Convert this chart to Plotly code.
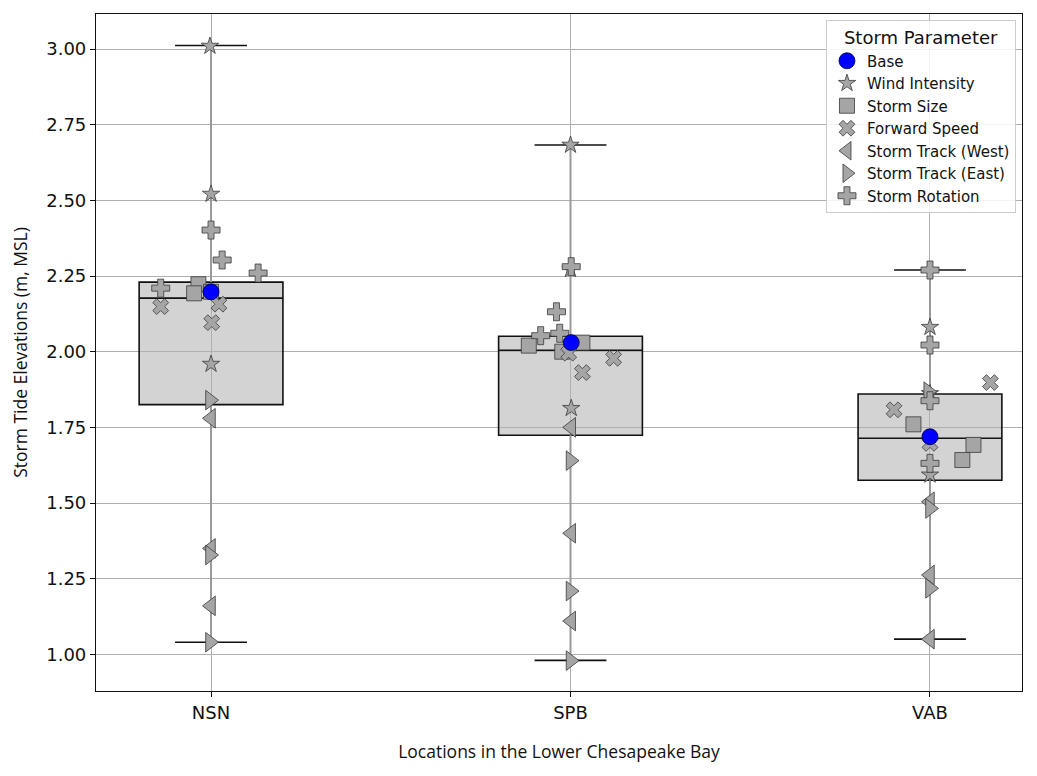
import plotly.graph_objects as go

# ---------------- data ----------------
locations = ["NSN", "SPB", "VAB"]
loc_pos = [0, 1, 2]

# box statistics
box_q1 = [1.825, 1.724, 1.575]
box_median = [2.177, 2.005, 1.714]
box_q3 = [2.230, 2.051, 1.860]
whisk_low = [1.040, 0.980, 1.050]
whisk_high = [3.012, 2.683, 2.270]

# Base
base_loc = [0, 1, 2]
base_val = [2.198, 2.030, 1.719]
base_jit = [0.0, 0.002, 0.0]

# Wind Intensity
wind_loc = [0, 0, 0, 1, 1, 1, 2, 2, 2]
wind_val = [3.010, 2.521, 1.959, 2.683, 2.272, 1.813, 2.081, 1.862, 1.593]
wind_jit = [-0.003, 0.0, 0.0, 0.0, 0.0, 0.002, 0.0, 0.0, 0.0]

# Storm Size
size_loc = [0, 0, 0, 1, 1, 1, 2, 2, 2]
size_val = [2.223, 2.193, 2.198, 2.020, 2.030, 2.000, 1.760, 1.692, 1.642]
size_jit = [-0.035, -0.047, 0.0, -0.116, 0.033, -0.023, -0.046, 0.121, 0.090]

# Forward Speed
fwd_loc = [0, 0, 0, 1, 1, 1, 2, 2, 2]
fwd_val = [2.149, 2.157, 2.096, 1.995, 1.931, 1.978, 1.898, 1.808, 1.697]
fwd_jit = [-0.140, 0.022, 0.002, -0.005, 0.033, 0.120, 0.168, -0.100, 0.0]

# Storm Track (West)
west_loc = [0, 0, 0, 1, 1, 1, 2, 2, 2]
west_val = [1.780, 1.350, 1.160, 1.750, 1.400, 1.110, 1.504, 1.262, 1.050]
west_jit = [0.0, 0.0, 0.0, 0.002, 0.002, 0.002, 0.0, 0.0, 0.0]

# Storm Track (East)
east_loc = [0, 0, 0, 1, 1, 1, 2, 2, 2]
east_val = [1.840, 1.328, 1.040, 1.640, 1.209, 0.979, 1.868, 1.482, 1.218]
east_jit = [-0.003, -0.003, -0.003, 0.0, 0.0, 0.0, -0.005, 0.0, 0.0]

# Storm Rotation
rot_loc = [0, 0, 0, 0, 1, 1, 1, 1, 2, 2, 2, 2]
rot_val = [2.402, 2.303, 2.260, 2.210, 2.281, 2.132, 2.053, 2.061, 2.270, 2.022, 1.838, 1.631]
rot_jit = [0.0, 0.031, 0.131, -0.140, 0.002, -0.039, -0.083, -0.030, 0.0, 0.0, 0.0, 0.0]

# ---------------- styling ----------------
GRID = "#b0b0b0"
MFILL = "#a5a5a5"
MEDGE = "#3a3a3a"
TICK_FONT = dict(family="DejaVu Sans", size=18, color="#111111")
TITLE_FONT = dict(family="Open Sans", size=17.5, color="#111111")

fig = go.Figure()

# boxes (no whiskers, drawn separately)
fig.add_trace(go.Box(
    x=loc_pos, q1=box_q1, median=box_median, q3=box_q3,
    lowerfence=box_q1, upperfence=box_q3,
    width=0.4, whiskerwidth=0,
    fillcolor="rgba(176,176,176,0.557)",
    line=dict(color="#111111", width=1.6),
    boxpoints=False, showlegend=False, hoverinfo="skip",
))

# whisker stems (gray)
stem_x, stem_y = [], []
for p, lo, q1, q3, hi in zip(loc_pos, whisk_low, box_q1, box_q3, whisk_high):
    stem_x += [p, p, None, p, p, None]
    stem_y += [q3, hi, None, lo, q1, None]
fig.add_trace(go.Scatter(x=stem_x, y=stem_y, mode="lines",
                         line=dict(color="#999999", width=2),
                         showlegend=False, hoverinfo="skip"))

# caps (black)
CAP_HALF = 0.1
cap_x, cap_y = [], []
for p, lo, hi in zip(loc_pos, whisk_low, whisk_high):
    cap_x += [p - CAP_HALF, p + CAP_HALF, None, p - CAP_HALF, p + CAP_HALF, None]
    cap_y += [hi, hi, None, lo, lo, None]
fig.add_trace(go.Scatter(x=cap_x, y=cap_y, mode="lines",
                         line=dict(color="#111111", width=1.6),
                         showlegend=False, hoverinfo="skip"))


def add_param(name, locs, vals, jit, symbol, size, rank, color=MFILL, edge=MEDGE):
    xs = [l + j for l, j in zip(locs, jit)]
    fig.add_trace(go.Scatter(
        x=xs, y=vals, mode="markers", name=name, legendrank=rank,
        legendgroup=name,
        marker=dict(symbol=symbol, size=size, color=color,
                    line=dict(color=edge, width=0.8)),
    ))


add_param("Wind Intensity", wind_loc, wind_val, wind_jit, "star", 13, 2)
add_param("Storm Size", size_loc, size_val, size_jit, "square", 15, 3)
add_param("Forward Speed", fwd_loc, fwd_val, fwd_jit, "x", 14, 4)
add_param("Storm Track (West)", west_loc, west_val, west_jit, "triangle-left", 17, 5)
add_param("Storm Track (East)", east_loc, east_val, east_jit, "triangle-right", 17, 6)
add_param("Storm Rotation", rot_loc, rot_val, rot_jit, "cross", 15, 7)
add_param("Base", base_loc, base_val, base_jit, "circle", 16, 1, color="#0000ff", edge="#00003a")

fig.update_layout(
    width=1029, height=768,
    margin=dict(l=88, r=15, t=6, b=85),
    paper_bgcolor="white", plot_bgcolor="white",
    font=dict(family="DejaVu Sans", color="#111111"),
    legend=dict(
        x=0.9935, y=0.991, xanchor="right", yanchor="top",
        bgcolor="rgba(255,255,255,0.85)", bordercolor="#cccccc", borderwidth=1,
        font=dict(family="DejaVu Sans", size=15, color="#111111"),
        traceorder="grouped", tracegroupgap=0,
        title=dict(text="Storm Parameter", side="top center",
                   font=dict(family="DejaVu Sans", size=18, color="#111111")),
    ),
)

fig.update_xaxes(
    range=[-0.32, 2.256],
    tickmode="array", tickvals=loc_pos, ticktext=locations,
    showgrid=True, gridcolor=GRID, gridwidth=1, zeroline=False,
    showline=True, linecolor="#111111", linewidth=1.2, mirror=True,
    ticks="outside", ticklen=5, tickcolor="#111111",
    tickfont=TICK_FONT,
    title=dict(text="Locations in the Lower Chesapeake Bay", font=TITLE_FONT, standoff=24),
)
fig.update_yaxes(
    range=[0.8787, 3.116],
    tickmode="array", tickvals=[1.0, 1.25, 1.5, 1.75, 2.0, 2.25, 2.5, 2.75, 3.0],
    ticktext=["1.00", "1.25", "1.50", "1.75", "2.00", "2.25", "2.50", "2.75", "3.00"],
    showgrid=True, gridcolor=GRID, gridwidth=1, zeroline=False,
    showline=True, linecolor="#111111", linewidth=1.2, mirror=True,
    ticks="outside", ticklen=5, tickcolor="#111111",
    tickfont=TICK_FONT,
    title=dict(text="Storm Tide Elevations (m, MSL)", font=TITLE_FONT, standoff=14),
)

fig.write_html("out.html")
